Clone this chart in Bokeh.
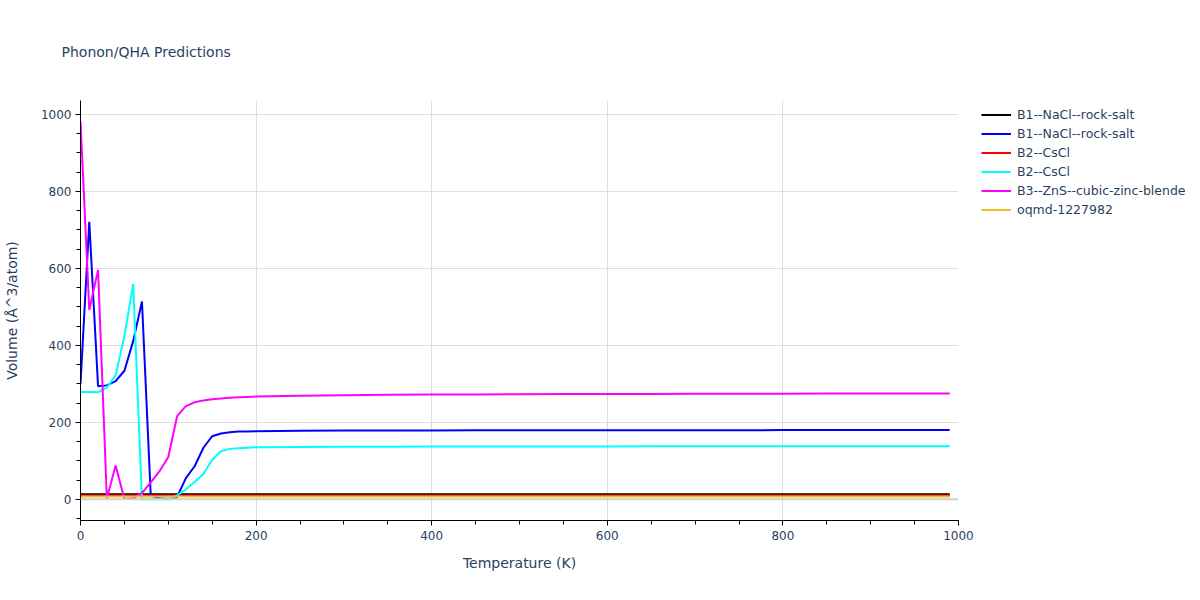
from bokeh.plotting import figure
from bokeh.models import Legend, LegendItem, SingleIntervalTicker, Span, Range1d
from bokeh.embed import file_html
from bokeh.resources import INLINE

# ---- data ----
temps = [0, 10, 20, 30, 40, 50, 60, 70, 80, 90, 100, 110, 120, 130, 140, 150, 160, 170, 180, 190, 200,
         250, 300, 350, 400, 450, 500, 550, 600, 650, 700, 750, 800, 850, 900, 950, 990]

b1_black = [13.5] * len(temps)
b1_blue = [300, 721, 294, 296, 307, 334, 411, 514, 10, 3, 1, 6, 55, 86, 134, 164, 171, 174, 176, 176.5, 177,
           178, 178.5, 178.7, 179, 179.2, 179.3, 179.4, 179.5, 179.6, 179.7, 179.7, 179.8, 179.8, 179.9, 180, 180]
b2_red = [10] * len(temps)
b2_cyan = [279, 279, 278, 290, 322, 424, 559, 0, 0, 0, 0, 10, 26, 45, 66, 103, 125, 131, 133, 134, 135,
           136, 136.5, 136.8, 137, 137.2, 137.3, 137.4, 137.5, 137.6, 137.7, 137.7, 137.8, 137.8, 137.9, 138, 138]
b3_magenta = [982, 492, 596, 2, 88, 1, 3, 16, 44, 73, 110, 216, 242, 252, 257, 260, 262, 264, 265, 266, 267,
              269, 270.5, 271.5, 272, 272.5, 273, 273.3, 273.6, 273.9, 274.1, 274.3, 274.5, 274.7, 274.8, 275, 275]
oqmd_yellow = [7.5] * len(temps)

series_names = ["B1--NaCl--rock-salt", "B1--NaCl--rock-salt", "B2--CsCl", "B2--CsCl",
                "B3--ZnS--cubic-zinc-blende", "oqmd-1227982"]
series_values = [b1_black, b1_blue, b2_red, b2_cyan, b3_magenta, oqmd_yellow]
series_colors = ["black", "blue", "red", "cyan", "magenta", "#f0bd2c"]

FONT = "DejaVu Sans"
TXT = "#2a3f5f"

p = figure(width=1192, height=592, frame_width=878, frame_height=420,
           output_backend="svg", toolbar_location=None,
           x_range=Range1d(0, 1000), y_range=Range1d(-55, 1036),
           min_border_left=79, min_border_top=100, min_border_bottom=72, min_border_right=235)
p.outline_line_color = None
p.background_fill_color = "white"

p.title.text = "Phonon/QHA Predictions"
p.title.text_font = FONT
p.title.text_font_size = "14px"
p.title.text_font_style = "normal"
p.title.text_color = TXT
p.title.offset = -19
p.title.standoff = 81

p.add_layout(Span(location=0, dimension="width", line_color="#d0d0d0", line_width=2), "center")

renderers = []
for vals, col in zip(series_values, series_colors):
    r = p.line(temps, vals, line_color=col, line_width=2)
    renderers.append(r)

for ax in (p.xaxis[0], p.yaxis[0]):
    ax.ticker = SingleIntervalTicker(interval=200, num_minor_ticks=4)
    ax.axis_line_color = "black"
    ax.axis_line_width = 1
    ax.major_tick_line_color = "black"
    ax.minor_tick_line_color = "black"
    ax.major_tick_out = 5
    ax.major_tick_in = 0
    ax.minor_tick_out = 4
    ax.minor_tick_in = 0
    ax.major_label_text_font = FONT
    ax.major_label_text_font_size = "12px"
    ax.major_label_text_color = TXT
    ax.axis_label_text_font = FONT
    ax.axis_label_text_font_size = "14px"
    ax.axis_label_text_font_style = "normal"
    ax.axis_label_text_color = TXT

p.xaxis.axis_label = "Temperature (K)"
p.yaxis.axis_label = "Volume (Å^3/atom)"
p.xaxis.major_label_standoff = 5
p.yaxis.major_label_standoff = 4
p.xaxis.axis_label_standoff = 12
p.yaxis.axis_label_standoff = 18

p.xgrid.grid_line_color = "#dddddd"
p.ygrid.grid_line_color = "#dddddd"

items = [LegendItem(label=n, renderers=[r]) for n, r in zip(series_names, renderers)]
legend = Legend(items=items, location=(23, 301), orientation="vertical",
                border_line_color=None, background_fill_alpha=0,
                label_text_font=FONT, label_text_font_size="12.5px", label_text_color=TXT,
                glyph_width=30, glyph_height=19, label_height=19, label_standoff=6,
                spacing=0, padding=0, margin=0)
p.add_layout(legend, "right")

open("out.html", "w").write(file_html(p, INLINE))
